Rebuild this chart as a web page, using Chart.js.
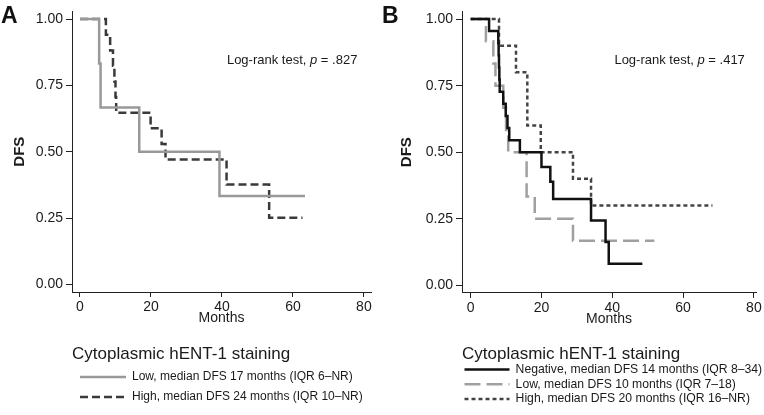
<!DOCTYPE html>
<html lang="en">
<head>
	<meta charset="utf-8">
	<title>hENT-1 DFS</title>
	<script src="https://cdn.jsdelivr.net/npm/chart.js"></script>
	<style>
		body { margin: 0; background: white; }
		#wrap { position: relative; width: 764px; height: 415px; overflow: hidden; }
		canvas { position: absolute; top: 0; }
		#chartA { left: 0; }
		#chartB { left: 380px; }
		.panel {
			position: absolute;
			top: 2px;
			font: bold 23px "Liberation Sans", Arial, sans-serif;
			color: #111;
		}
	</style>
</head>
<body>
	<div id="wrap">
		<canvas id="chartA" width="380" height="415"></canvas>
		<canvas id="chartB" width="384" height="415"></canvas>
		<div class="panel" style="left:1px">A</div>
		<div class="panel" style="left:382px">B</div>
	</div>

<script>
	// axis ticks
	const monthTicks = [0, 20, 40, 60, 80];
	const dfsTicks = [0, 0.25, 0.5, 0.75, 1];

	// panel A - KM steps (time in months, DFS after the step)
	const lowTimesA = [0, 5.4, 5.8, 16.7, 39.3, 63.4];
	const lowDfsA = [1, 0.833, 0.667, 0.5, 0.333, 0.333];
	const highTimesA = [0, 7.3, 8.5, 9.3, 9.7, 10.0, 10.2, 19.9, 23.0, 24.1, 41.3, 53.3, 62.7];
	const highDfsA = [1, 0.941, 0.882, 0.824, 0.765, 0.706, 0.647, 0.588, 0.529, 0.471, 0.376, 0.251, 0.251];
	const labelsA = [
		'Low, median DFS 17 months (IQR 6\u2013NR)',
		'High, median DFS 24 months (IQR 10\u2013NR)'
	];

	// panel B
	const negTimesB = [0, 5.2, 7.8, 7.9, 8.0, 8.1, 8.2, 9.2, 9.9, 10.4, 10.9, 13.9, 20.0, 22.5, 23.3, 34.0, 38.1, 39.0, 48.5];
	const negDfsB = [1, 0.955, 0.909, 0.864, 0.818, 0.773, 0.727, 0.682, 0.636, 0.591, 0.545, 0.5, 0.444, 0.389, 0.324, 0.243, 0.162, 0.081, 0.081];
	const lowTimesB = [0, 4.3, 6.4, 7.0, 9.2, 10.0, 10.6, 15.8, 18.1, 28.9, 51.9];
	const lowDfsB = [1, 0.917, 0.833, 0.75, 0.667, 0.583, 0.5, 0.333, 0.25, 0.167, 0.167];
	const highTimesB = [0, 8.0, 12.8, 16.0, 19.8, 28.9, 34.0, 68.3];
	const highDfsB = [1, 0.9, 0.8, 0.6, 0.5, 0.4, 0.3, 0.3];
	const labelsB = [
		'Negative, median DFS 14 months (IQR 8\u201334)',
		'Low, median DFS 10 months (IQR 7\u201318)',
		'High, median DFS 20 months (IQR 16\u2013NR)'
	];

	const legendTitle = 'Cytoplasmic hENT-1 staining';
	const textColor = '#1a1a1a';
	const axisColor = '#222';

	Chart.defaults.font.family = '"Liberation Sans", Arial, sans-serif';
	Chart.defaults.color = textColor;

	function steps(times, values) {
		return times.map((t, i) => ({x: t, y: values[i]}));
	}

	function kmLine(label, times, values, color, dash) {
		return {
			label: label,
			data: steps(times, values),
			borderColor: color,
			backgroundColor: color,
			borderWidth: 2.5,
			borderDash: dash,
			stepped: true,
			pointRadius: 0,
			fill: false
		};
	}

	// legend samples: use the dataset line style (point style drops the dash)
	function legendLabels(chart) {
		const items = Chart.defaults.plugins.legend.labels.generateLabels(chart);
		items.forEach(item => {
			const ds = chart.data.datasets[item.datasetIndex];
			item.lineDash = ds.borderDash;
			item.lineWidth = ds.borderWidth;
			item.strokeStyle = ds.borderColor;
		});
		return items;
	}

	// legend box is only as wide as the chart area, let the text run past it
	const legendNoClip = {
		id: 'legendNoClip',
		afterLayout(chart) {
			const lg = chart.legend;
			lg.right = chart.width;
			lg.width = lg.right - lg.left;
		}
	};

	// "Log-rank test, p = ..." with italic p
	const pValueText = {
		id: 'pValueText',
		afterDraw(chart, args, opts) {
			const ctx = chart.ctx;
			let x = chart.scales.x.getPixelForValue(opts.x);
			const y = chart.scales.y.getPixelForValue(opts.y);
			const parts = [['Log-rank test, ', ''], ['p', 'italic '], [' = ' + opts.p, '']];
			ctx.save();
			ctx.fillStyle = textColor;
			ctx.textBaseline = 'middle';
			ctx.textAlign = 'left';
			parts.forEach(p => {
				ctx.font = p[1] + '13px "Liberation Sans", Arial, sans-serif';
				ctx.fillText(p[0], x, y);
				x += ctx.measureText(p[0]).width;
			});
			ctx.restore();
		}
	};

	function makeOptions(o) {
		return {
			responsive: false,
			animation: false,
			layout: { padding: o.padding },
			scales: {
				x: {
					type: 'linear',
					min: o.xMin,
					max: o.xMax,
					afterBuildTicks: s => { s.ticks = monthTicks.map(v => ({value: v})); },
					afterFit: s => { s.height = o.xHeight; },
					ticks: { font: {size: 14}, color: textColor, padding: 2, maxRotation: 0 },
					grid: { drawOnChartArea: false, drawTicks: true, tickLength: 5, color: axisColor, tickColor: axisColor },
					border: { display: true, color: axisColor, width: 1 },
					title: { display: true, text: 'Months', font: {size: 14}, color: textColor, padding: {top: 0, bottom: o.monthsPad} }
				},
				y: {
					min: -0.029,
					max: 1.029,
					afterBuildTicks: s => { s.ticks = dfsTicks.map(v => ({value: v})); },
					afterFit: s => { s.width = o.yWidth; },
					ticks: { font: {size: 14}, color: textColor, padding: 3, callback: v => v.toFixed(2) },
					grid: { drawOnChartArea: false, drawTicks: true, tickLength: 6, color: axisColor, tickColor: axisColor },
					border: { display: true, color: axisColor, width: 1 },
					title: { display: true, text: 'DFS', font: {size: 15, weight: 'bold'}, color: textColor, padding: {top: o.dfsPad, bottom: 0} }
				}
			},
			plugins: {
				tooltip: { enabled: false },
				legend: {
					position: 'bottom',
					align: 'start',
					fullSize: false,
					title: {
						display: true,
						text: legendTitle,
						position: 'start',
						color: textColor,
						font: {size: 17},
						padding: {top: 0, bottom: o.titlePad}
					},
					labels: {
						usePointStyle: true,
						pointStyle: 'line',
						pointStyleWidth: o.sampleWidth,
						padding: o.itemPad,
						color: textColor,
						font: {size: o.itemFont},
						generateLabels: legendLabels
					}
				},
				pValueText: { x: o.pX, y: 0.845, p: o.p }
			}
		};
	}

	new Chart(document.getElementById('chartA'), {
		type: 'line',
		data: {
			datasets: [
				kmLine(labelsA[0], lowTimesA, lowDfsA, '#999999', []),
				kmLine(labelsA[1], highTimesA, highDfsA, '#3a3a3a', [8, 4])
			]
		},
		options: makeOptions({
			padding: {left: 0, right: 9, top: 1, bottom: 2},
			xMin: -2.25, xMax: 82,
			xHeight: 53.8, yWidth: 72,
			monthsPad: 19.4, dfsPad: 11,
			titlePad: -3.2, itemPad: 8, itemFont: 12, sampleWidth: 46,
			pX: 41.4, p: '.827'
		}),
		plugins: [pValueText, legendNoClip]
	});

	new Chart(document.getElementById('chartB'), {
		type: 'line',
		data: {
			datasets: [
				kmLine(labelsB[0], negTimesB, negDfsB, '#111111', []),
				kmLine(labelsB[1], lowTimesB, lowDfsB, '#a0a0a0', [16, 6]),
				kmLine(labelsB[2], highTimesB, highDfsB, '#444444', [4, 3])
			]
		},
		options: makeOptions({
			padding: {left: 0, right: 8, top: 1, bottom: 0},
			xMin: -2.45, xMax: 80.6,
			xHeight: 52.55, yWidth: 82,
			monthsPad: 18.2, dfsPad: 18,
			titlePad: -5, itemPad: 2.5, itemFont: 12.2, sampleWidth: 45,
			pX: 40.6, p: '.417'
		}),
		plugins: [pValueText, legendNoClip]
	});
</script>
</body>
</html>
